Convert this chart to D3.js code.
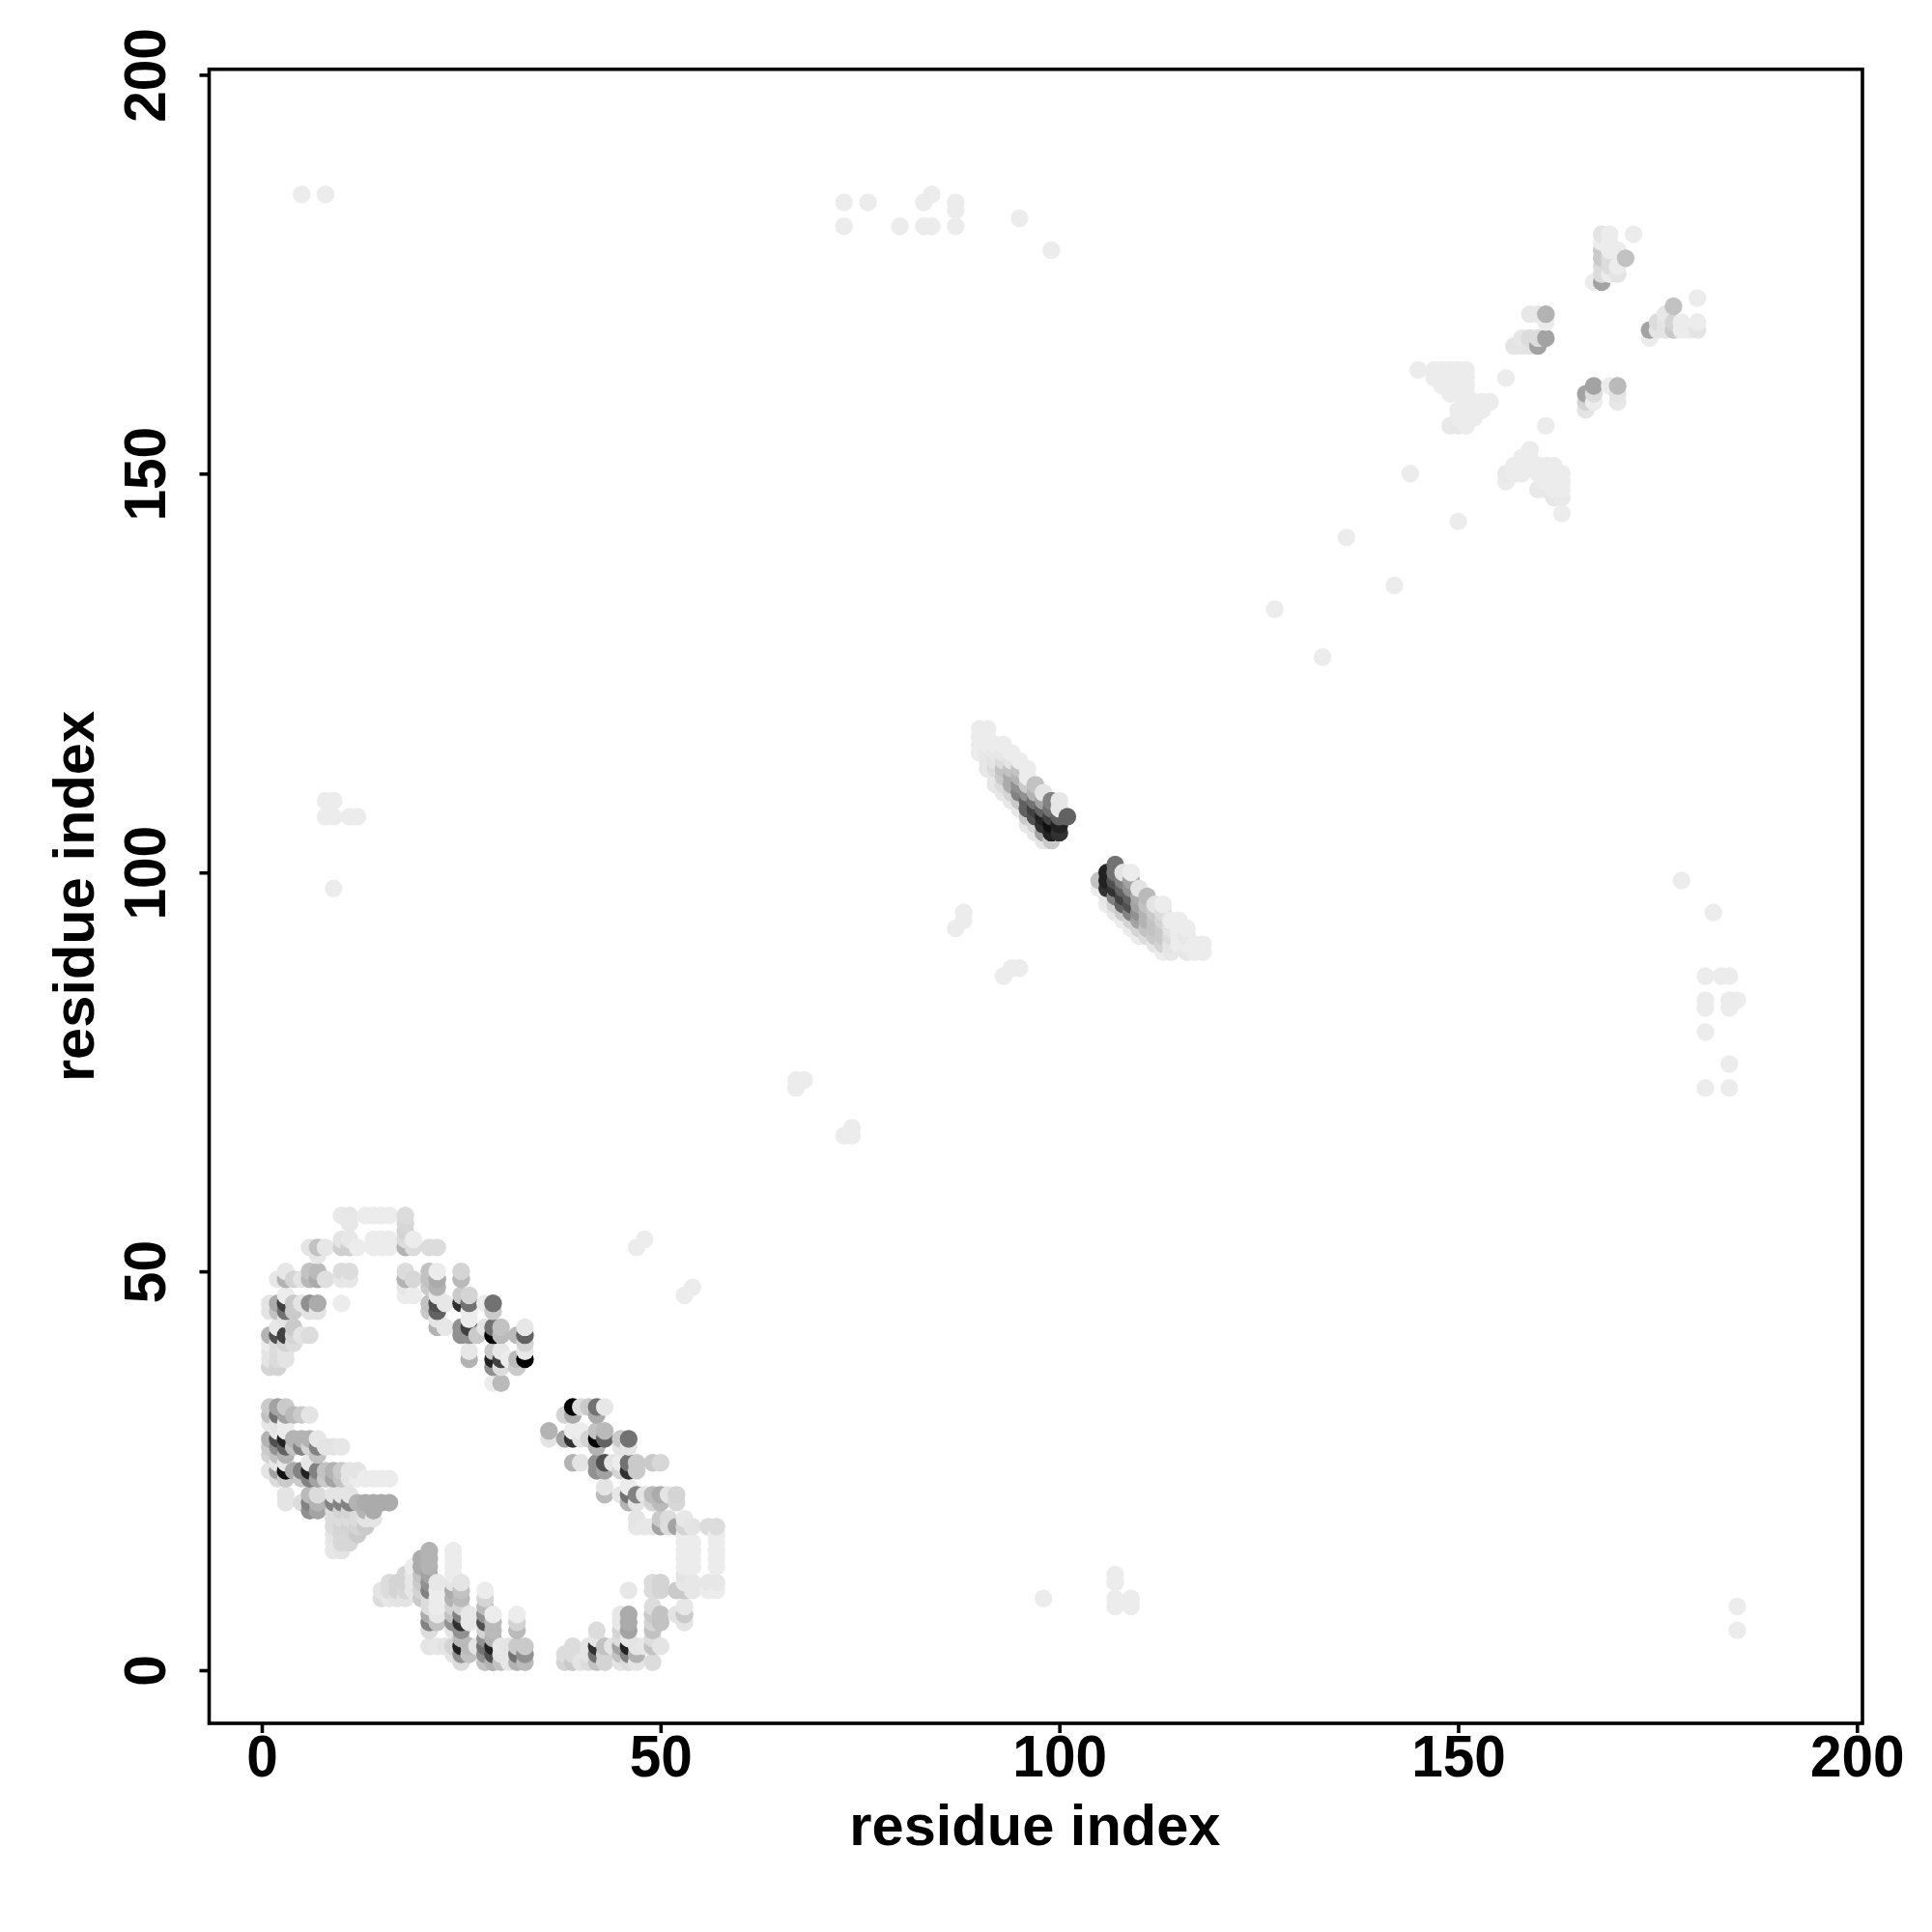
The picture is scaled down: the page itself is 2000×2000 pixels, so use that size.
<!DOCTYPE html>
<html><head><meta charset="utf-8">
<script src="https://cdn.jsdelivr.net/npm/d3@7"></script>
<style>html,body{margin:0;background:#fff}svg{display:block}</style></head>
<body><svg id="c" width="2000" height="2000"></svg>
<script>
const xTicks=[0,50,100,150,200], yTicks=[0,50,100,150,200];
const xLabel="residue index", yLabel="residue index";
// [residue i, residue j, contact score 0-100]
const upperArc=[[10,57,10],[11,57,11],[13,57,9],[14,57,9],[15,57,9],[16,57,9],[18,57,15],[11,56,11],[18,56,17],[18,55,18],
[10,54,12],[11,54,11],[14,54,9],[15,54,9],[16,54,9],[18,54,15],[19,54,9],
[6,53,12],[7,53,25],[8,53,11],[10,53,20],[11,53,20],[12,53,9],[14,53,9],[15,53,9],[16,53,9],[18,53,31],[19,53,15],[21,53,15],[22,53,15],[7,52,11],
[6,50,25],[7,50,28],[10,50,15],[11,50,15],[18,50,15],[21,50,25],[22,50,9],[3,50,11],[25,50,18],
[2,49,11],[3,49,31],[4,49,18],[5,49,12],[6,49,29],[7,49,34],[8,49,14],[10,49,11],[11,49,11],[18,49,31],[19,49,17],[21,49,25],[22,49,34],[25,49,28],
[18,48,11],[21,48,22],[22,48,31],[18,47,9],[19,47,9],[22,47,11],[3,47,9],[25,47,22],[26,47,18],
[1,46,12],[2,46,34],[3,46,75],[4,46,22],[5,46,12],[6,46,44],[7,46,34],[10,46,9],[21,46,25],[22,46,69],[23,46,11],[25,46,81],[26,46,56],[28,46,9],[29,46,56],
[1,45,12],[2,45,25],[3,45,56],[4,45,22],[6,45,12],[7,45,12],[21,45,22],[22,45,62],[26,45,9],[29,45,22],[3,44,12],[22,44,12],[26,44,9],
[2,43,11],[4,43,22],[22,43,31],[23,43,11],[25,43,44],[26,43,75],[28,43,12],[29,43,56],[30,43,25],[33,43,11],
[1,42,31],[2,42,69],[3,42,75],[4,42,18],[5,42,12],[6,42,15],[25,42,44],[26,42,44],[27,42,22],[29,42,100],[30,42,28],[32,42,28],[33,42,62],
[1,41,9],[2,41,15],[3,41,18],[4,41,15],[33,41,18],[1,40,12],[2,40,15],[3,40,12],[26,40,11],[29,40,22],[30,40,11],[33,40,11],
[1,39,12],[2,39,15],[3,39,12],[26,39,31],[29,39,87],[30,39,75],[31,39,9],[32,39,28],[33,39,100],[1,38,18],[2,38,18],[29,38,44],[30,38,15],[32,38,22],[29,36,9],[30,36,28]];
const lowerLeft=[[1,33,22],[2,33,37],[3,33,22],[1,32,25],[2,32,56],[3,32,37],[4,32,28],[5,32,22],[6,32,12],[1,31,11],[2,31,12],[3,31,9],[2,30,11],[3,30,9],
[1,29,31],[2,29,69],[3,29,87],[4,29,31],[5,29,31],[6,29,31],[7,29,11],[1,28,22],[2,28,44],[3,28,62],[4,28,25],[5,28,50],[6,28,18],[7,28,50],[8,28,12],[9,28,12],[10,28,11],[1,27,18],[2,27,25],[3,27,31],[7,27,25],
[2,26,11],[3,26,11],[6,26,11],[1,25,12],[2,25,37],[3,25,94],[4,25,34],[5,25,50],[6,25,87],[7,25,50],[8,25,25],[9,25,31],[10,25,22],[11,25,12],[12,25,12],
[2,24,15],[3,24,22],[5,24,22],[6,24,50],[7,24,37],[8,24,22],[9,24,37],[10,24,25],[11,24,12],[12,24,9],[13,24,9],[14,24,9],[15,24,9],[16,24,9],
[3,22,12],[6,22,28],[7,22,15],[9,22,12],[10,22,12],[11,22,12],[3,21,12],[5,21,15],[6,21,50],[7,21,31],[9,21,50],[10,21,50],[11,21,50],[12,21,31],[13,21,34],[14,21,34],[15,21,34],[16,21,34],
[6,20,44],[7,20,37],[9,20,15],[10,20,18],[11,20,18],[13,20,31],[14,20,34],[9,19,15],[10,19,15],[11,19,15],[12,19,15],[13,19,12],[14,19,12],
[9,18,15],[10,18,18],[11,18,18],[12,18,18],[13,18,22],[9,17,12],[10,17,17],[11,17,17],[12,17,22],[9,16,11],[10,16,17],[11,16,17],[9,15,11],[10,15,12]];
const lowerRow=[[21,15,31],[24,15,9],[20,14,34],[21,14,31],[24,14,9],[19,13,9],[20,13,34],[21,13,31],[24,13,9],[18,12,18],[19,12,11],[20,12,25],[21,12,37],[24,12,9],
[16,11,15],[17,11,18],[18,11,18],[19,11,11],[20,11,22],[21,11,44],[22,11,11],[24,11,12],[25,11,12],[15,10,12],[16,10,15],[17,10,18],[18,10,17],[19,10,11],[20,10,18],[21,10,50],[22,10,9],[24,10,34],[25,10,25],[28,10,9],
[15,9,15],[16,9,11],[17,9,12],[18,9,12],[20,9,22],[21,9,15],[22,9,9],[24,9,31],[25,9,28],[28,9,18],[21,8,15],[22,8,9],[24,8,18],[25,8,18],[28,8,28],
[21,7,34],[22,7,11],[24,7,25],[25,7,50],[26,7,11],[28,7,44],[29,7,9],[32,7,9],[21,6,50],[22,6,25],[24,6,44],[25,6,81],[26,6,11],[28,6,69],[29,6,28],[32,6,18],
[21,5,15],[24,5,12],[25,5,44],[28,5,18],[29,5,28],[32,5,28],[25,4,28],[28,4,44],[29,4,31],[21,3,12],[22,3,11],[23,3,12],[24,3,18],[25,3,87],[26,3,28],[27,3,12],[28,3,56],[29,3,87],[30,3,11],[31,3,12],[32,3,22],[33,3,22],
[24,2,12],[25,2,44],[26,2,25],[28,2,44],[29,2,69],[30,2,12],[32,2,56],[33,2,44],[25,1,15],[28,1,25],[29,1,31],[30,1,25],[31,1,11],[32,1,31],[33,1,28]];
const rightArc=[[38,1,18],[39,1,22],[40,1,12],[41,1,15],[42,1,25],[43,1,18],[45,1,12],[46,1,15],[47,1,12],[49,1,15],[38,2,15],[39,2,15],[41,2,12],[42,2,56],[43,2,18],[45,2,25],[46,2,50],[47,2,31],
[39,3,15],[41,3,12],[42,3,81],[43,3,25],[44,3,12],[45,3,37],[46,3,87],[47,3,12],[48,3,11],[49,3,25],[50,3,12],[42,4,11],[45,4,15],[46,4,11],[49,4,15],[42,5,15],[45,5,18],[46,5,37],[49,5,25],
[45,6,11],[46,6,34],[49,6,18],[50,6,25],[53,6,12],[45,7,11],[46,7,34],[49,7,22],[50,7,25],[52,7,12],[53,7,22],[49,8,15],[53,8,11],[46,10,11],[49,10,15],[50,10,18],[52,10,22],[53,10,22],[54,10,11],[56,10,9],[57,10,9],
[49,11,15],[50,11,18],[53,11,11],[54,11,11],[56,11,11],[57,11,11],[53,12,12],[53,13,9],[54,13,9],[57,13,9],[53,14,9],[54,14,9],[57,14,9],[53,15,9],[54,15,9],[57,15,9],[53,16,9],[54,16,9],[57,16,9],[53,17,9],[57,17,9],
[47,18,11],[48,18,11],[49,18,11],[50,18,37],[51,18,15],[52,18,37],[53,18,18],[54,18,12],[56,18,15],[57,18,15],[47,19,12],[50,19,22],[51,19,15],[53,19,11],[46,21,31],[47,21,12],[49,21,18],[50,21,28],[52,21,17],
[43,22,28],[45,22,11],[46,22,56],[47,22,50],[48,22,12],[49,22,28],[50,22,34],[51,22,12],[52,22,18],[43,23,12],[46,23,9],[42,25,44],[43,25,37],[45,25,18],[46,25,81],[47,25,22],
[39,26,31],[40,26,12],[42,26,44],[43,26,69],[44,26,12],[45,26,9],[46,26,56],[47,26,22],[49,26,22],[50,26,17],[42,28,31],[45,28,12],[46,28,12],
[36,29,12],[38,29,37],[39,29,81],[40,29,12],[41,29,18],[42,29,100],[43,29,62],[45,29,22],[46,29,56],[36,30,31],[39,30,9],[40,30,9],[42,30,25],[43,30,28],[38,32,18],[39,32,34],[42,32,34],[39,33,100],[40,33,15],[41,33,22],[42,33,56],[43,33,11]];
const bandUpper=[[90,115,9],[90,116,9],[90,117,9],[90,118,9],[91,113,11],[91,114,11],[91,115,11],[91,116,9],[91,117,9],[91,118,9],
[92,111,11],[92,112,11],[92,113,15],[92,114,12],[92,115,11],[92,116,9],[93,110,11],[93,111,15],[93,112,22],[93,113,25],[93,114,15],[93,115,11],[93,116,9],
[94,109,11],[94,110,18],[94,111,34],[94,112,34],[94,113,25],[94,114,12],[94,115,9],[95,108,11],[95,109,22],[95,110,50],[95,111,44],[95,112,31],[95,113,25],[95,114,9],
[96,106,11],[96,107,22],[96,108,62],[96,109,62],[96,110,44],[96,111,22],[96,112,9],[96,113,9],[97,105,11],[97,106,18],[97,107,69],[97,108,75],[97,109,56],[97,110,31],[97,111,25],
[98,104,11],[98,105,37],[98,106,81],[98,107,87],[98,108,62],[98,109,37],[98,110,12],[99,104,22],[99,105,87],[99,106,94],[99,107,75],[99,108,56],[99,109,50],
[100,105,81],[100,106,87],[100,107,62],[100,108,11],[100,109,11],[101,107,62]];
const bandLower=[[105,98,9],[105,99,25],[106,96,9],[106,97,11],[106,98,81],[106,99,87],[106,100,87],[107,95,11],[107,96,18],[107,97,50],[107,98,81],[107,99,69],[107,100,56],[107,101,56],
[108,94,9],[108,95,22],[108,96,62],[108,97,75],[108,98,62],[108,99,50],[108,100,12],[109,93,9],[109,94,18],[109,95,50],[109,96,69],[109,97,62],[109,98,44],[109,99,37],[109,100,9],
[110,92,9],[110,93,18],[110,94,37],[110,95,44],[110,96,37],[110,97,34],[110,98,12],[111,92,15],[111,93,25],[111,94,31],[111,95,31],[111,96,25],[111,97,28],
[112,91,11],[112,92,22],[112,93,25],[112,94,25],[112,95,22],[112,96,12],[113,90,9],[113,91,18],[113,92,22],[113,93,22],[113,94,18],[113,95,15],[113,96,9],
[114,90,11],[114,91,12],[114,92,15],[114,93,12],[114,94,9],[115,91,9],[115,92,9],[115,93,9],[115,94,9],[116,90,11],[116,91,9],[116,92,11],[116,93,9],[117,90,9],[117,91,9],[118,90,9],[118,91,9]];
const upperRight=[[145,163,9],[147,163,9],[148,163,9],[149,163,9],[150,163,9],[151,163,9],[147,162,9],[148,162,9],[149,162,9],[150,162,9],[151,162,9],[148,161,9],[149,161,9],[150,161,9],[151,161,9],[149,160,9],[150,160,9],[151,160,9],
[156,162,9],[161,156,9],[144,150,9],[150,144,9],[163,145,9],[149,156,10],[150,156,11],[151,156,9],[150,157,9],[151,157,9],[152,157,9],[150,158,9],[151,158,9],[152,158,9],[153,158,9],[151,159,9],[152,159,9],[153,159,9],[154,159,9],
[156,149,9],[156,150,10],[157,150,9],[157,151,9],[158,150,9],[158,151,9],[158,152,9],[159,151,9],[159,152,9],[159,153,9],[160,148,10],[160,150,9],[160,151,9],[161,148,10],[161,149,9],[161,150,9],[161,151,9],[162,147,11],[162,148,9],[162,149,9],[162,150,9],[162,151,9],[163,147,10],[163,148,9],[163,149,9],[163,150,9],
[159,170,11],[160,170,11],[161,170,31],[161,169,9],[157,166,12],[158,167,11],[158,166,12],[159,167,15],[159,166,12],[160,166,37],[160,167,15],[161,167,37],
[168,180,12],[169,180,9],[172,180,9],[167,174,9],[168,174,37],[168,175,15],[168,176,15],[168,177,22],[168,178,22],[168,179,9],[169,175,9],[169,176,15],[169,177,15],[169,178,9],[169,179,9],[170,175,12],[170,176,9],[170,178,9],[171,177,25],
[174,167,9],[174,168,37],[175,169,15],[176,170,11],[177,171,25],[175,168,12],[176,168,12],[177,168,22],[176,169,12],[177,169,18],[178,169,9],[178,168,9],[180,172,9],[180,169,9],[180,168,12],[179,168,9],
[167,161,37],[166,160,37],[167,160,15],[166,159,18],[166,158,12],[167,159,9],[169,161,9],[170,161,28],[170,160,12],[170,159,11]];
const scattered=[[5,185,9],[8,185,9],[73,184,9],[73,181,9],[76,184,9],[80,181,9],[83,184,9],[84,185,9],[83,181,9],[84,181,9],[87,184,9],[87,183,9],[87,181,9],[95,182,9],[99,178,9],
[127,133,9],[133,127,9],[136,142,9],[142,136,9],[8,109,9],[9,109,9],[8,107,9],[9,107,9],[11,107,9],[12,107,9],[9,98,9],[67,73,9],[67,74,9],[68,74,9],[73,67,9],[74,68,9],[74,67,9],[47,53,9],[48,54,9],[53,47,9],[54,48,9],
[87,93,9],[88,94,9],[88,95,9],[93,87,9],[94,88,9],[95,88,9],[178,99,9],[182,95,9],[181,87,9],[183,87,9],[184,87,9],[181,84,9],[181,83,9],[184,83,9],[184,84,9],[185,84,9],[181,80,9],[184,76,9],[181,73,9],[184,73,9],
[98,9,9],[107,12,9],[107,11,9],[107,9,9],[107,8,9],[109,9,9],[109,8,9],[185,8,9],[185,5,9]];

const contacts=d3.sort([].concat(upperArc,lowerLeft,lowerRow,rightArc,bandUpper,bandLower,upperRight,scattered),d=>d[0],d=>d[1]);
const L=216.5,R=1928,T=71.7,B=1784;
const x=d3.scaleLinear().domain([-6.60,200.69]).range([L,R]);
const y=d3.scaleLinear().domain([-6.66,200.69]).range([B,T]);
const g=d3.scaleLinear().domain([0,100]).range([259,0]);
const FONT='"Liberation Sans",Arial,sans-serif';
const svg=d3.select("#c");
svg.append("g").selectAll("circle").data(contacts).join("circle")
 .attr("cx",d=>x(d[0])).attr("cy",d=>y(d[1])).attr("r",9.2)
 .attr("fill",d=>{const v=Math.round(g(d[2]));return d3.rgb(v,v,v)});
svg.append("rect").attr("x",L).attr("y",T).attr("width",R-L).attr("height",B-T).attr("fill","none").attr("stroke","#000").attr("stroke-width",3.6);
const ax=svg.append("g").attr("transform",`translate(0,${B})`).call(d3.axisBottom(x).tickValues(xTicks).tickSize(10).tickSizeOuter(0));
const ay=svg.append("g").attr("transform",`translate(${L},0)`).call(d3.axisLeft(y).tickValues(yTicks).tickSize(10).tickSizeOuter(0));
[ax,ay].forEach(a=>{a.select(".domain").remove();a.selectAll("line").attr("stroke","#000").attr("stroke-width",3.6);
 a.selectAll("text").attr("font-family",FONT).attr("font-weight","bold").attr("font-size",58.5).attr("fill","#000")
  .attr("x",0).attr("y",0).attr("dy",null).attr("text-anchor","middle");});
ax.selectAll("text").attr("transform","translate(0,54.5) scale(1,1.06)");
ay.selectAll("text").attr("transform","translate(-46,0) rotate(-90) scale(1,1.06)");
svg.append("text").attr("x",1071.4).attr("y",1910).attr("text-anchor","middle").attr("font-family",FONT).attr("font-weight","bold").attr("font-size",59.6).text(xLabel);
svg.append("text").attr("transform",`translate(97,928) rotate(-90)`).attr("text-anchor","middle").attr("font-family",FONT).attr("font-weight","bold").attr("font-size",59.6).text(yLabel);
</script></body></html>
